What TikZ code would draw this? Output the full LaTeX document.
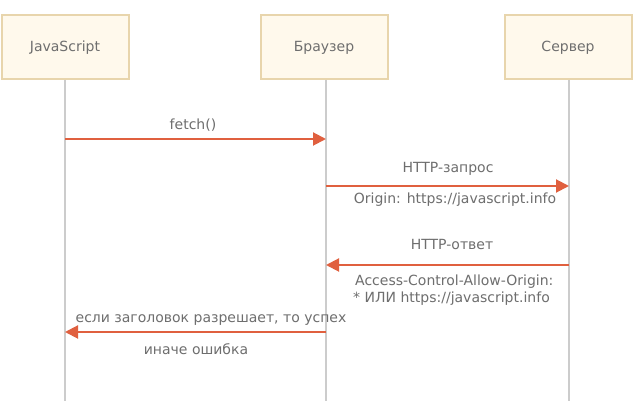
\documentclass[tikz,border=0pt]{standalone}
\usepackage{fontspec}
\setmainfont{DejaVu Sans}
\usetikzlibrary{arrows.meta}
\definecolor{boxfill}{HTML}{FFF9EC}
\definecolor{boxline}{HTML}{E8D5AC}
\definecolor{txt}{HTML}{6E6E6E}
\definecolor{arr}{HTML}{E0603F}
\definecolor{life}{HTML}{CCCCCC}
\begin{document}
\begin{tikzpicture}[x=1pt,y=-1pt,
  actor/.style={draw=boxline,fill=boxfill,line width=2pt,minimum width=127pt,minimum height=64pt,inner sep=0pt,text=txt,font=\fontsize{14}{16}\selectfont},
  lifeline/.style={draw=life,line width=2pt},
  msg/.style={draw=arr,line width=2pt,-{Triangle[length=13pt,width=13pt]}},
  lbl/.style={text=txt,font=\fontsize{14}{16}\selectfont,inner sep=0pt}]
\useasboundingbox[fill=white] (0,0) rectangle (633,411);
\node[actor] (js) at (65,47.5) {JavaScript};
\node[actor] (br) at (324,47.5) {Браузер};
\node[actor] (sv) at (568,47.5) {Сервер};
\coordinate (jsb) at (65,401);
\coordinate (brb) at (326,401);
\coordinate (svb) at (569,401);
\draw[lifeline] (65,80) -- (jsb);
\draw[lifeline] (326,80) -- (brb);
\draw[lifeline] (569,80) -- (svb);
% messages
\coordinate (m1a) at (65,139);
\coordinate (m1b) at (326,139);
\draw[msg] (m1a) -- (m1b);
\node[lbl] (l1) at (193,125) {fetch()};
\coordinate (m2a) at (326,186);
\coordinate (m2b) at (569,186);
\draw[msg] (m2a) -- (m2b);
\node[lbl] (l2) at (448,169) {HTTP-запрос};
\node[lbl] (l2b) at (455,200) {Origin: https://javascript.info};
\coordinate (m3a) at (569,265);
\coordinate (m3b) at (326,265);
\draw[msg] (m3a) -- (m3b);
\node[lbl] (l3) at (452,244) {HTTP-ответ};
\node[lbl,anchor=west] (l3b) at (355,282) {Access-Control-Allow-Origin:};
\node[lbl,anchor=west] (l3c) at (353,299) {* ИЛИ https://javascript.info};
\coordinate (m4a) at (326,332);
\coordinate (m4b) at (65,332);
\draw[msg] (m4a) -- (m4b);
\node[lbl] (l4) at (211,320) {если заголовок разрешает, то успех};
\node[lbl] (l4b) at (196,349) {иначе ошибка};
\end{tikzpicture}
\end{document}
